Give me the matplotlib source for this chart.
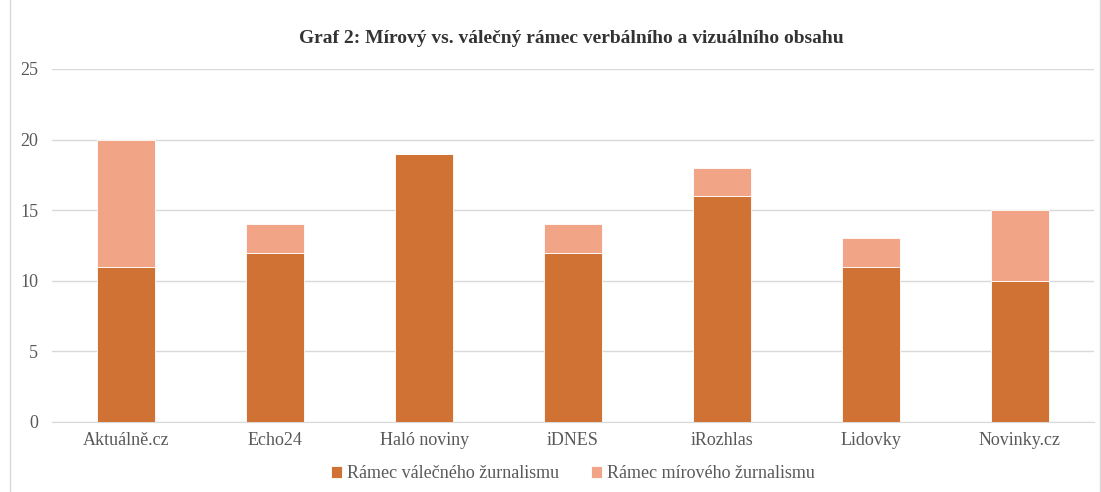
import matplotlib
matplotlib.use("Agg")
import matplotlib.pyplot as plt
from matplotlib.patches import Rectangle
import numpy as np

categories = ["Aktuálně.cz", "Echo24", "Haló noviny", "iDNES", "iRozhlas", "Lidovky", "Novinky.cz"]
war_frame = [11, 12, 19, 12, 16, 11, 10]
peace_frame = [9, 2, 0, 2, 2, 2, 5]

plt.rcParams["font.family"] = ["Liberation Serif", "DejaVu Serif"]

fig = plt.figure(figsize=(11.01, 4.92), dpi=100)
ax = fig.add_axes([0.0472, 0.1423, 0.9465, 0.7175])

x = np.arange(len(categories))
w = 0.39
ax.bar(x, war_frame, w, color="#D07234", edgecolor="white", linewidth=0.6,
       label="Rámec válečného žurnalismu", zorder=3)
ax.bar(x, peace_frame, w, bottom=war_frame, color="#F1A586", edgecolor="white",
       linewidth=0.6, label="Rámec mírového žurnalismu", zorder=3)

ax.set_xlim(-0.5, len(categories) - 0.5)
ax.set_ylim(0, 25)
ax.set_yticks(range(0, 26, 5))
ax.set_xticks(x)
ax.set_xticklabels(categories)
ax.grid(axis="y", color="#d9d9d9", linewidth=1, zorder=0)
for s in ["top", "right", "left"]:
    ax.spines[s].set_visible(False)
ax.spines["bottom"].set_color("#d9d9d9")
ax.tick_params(axis="both", length=0, labelsize=13, colors="#595959", pad=7)
ax.tick_params(axis="y", pad=10)

fig.text(0.519, 0.922, "Graf 2: Mírový vs. válečný rámec verbálního a vizuálního obsahu",
         ha="center", va="center", fontsize=14, fontweight="bold", color="#333333")

leg = ax.legend(loc="center", bbox_to_anchor=(0.5, -0.147), ncol=2, frameon=False,
                fontsize=13, handlelength=0.6, handleheight=0.6, handletextpad=0.25,
                columnspacing=1.8, labelcolor="#595959")

fig.patches.append(Rectangle((0.009, -0.01), 0.99, 1.02, transform=fig.transFigure,
                             fill=False, edgecolor="#d9d9d9", linewidth=1))

fig.savefig("out.png", dpi=100)
